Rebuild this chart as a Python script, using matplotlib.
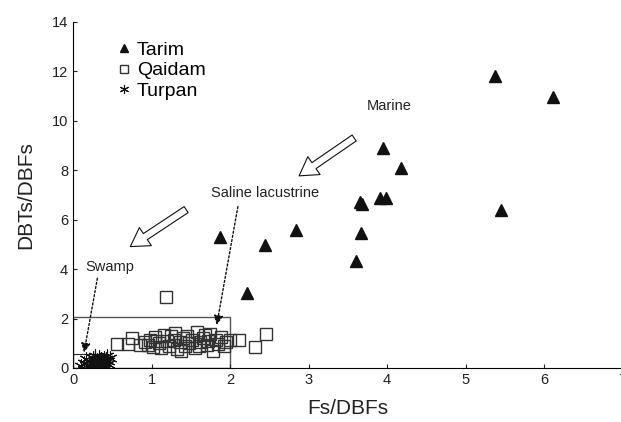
import matplotlib.pyplot as plt
from matplotlib.patches import Rectangle, FancyArrowPatch

plt.rcParams['font.family'] = ['Liberation Sans', 'DejaVu Sans']

# Tarim oils
tarim_x = [5.37, 6.11, 3.95, 4.18, 3.66, 3.68, 3.91, 3.98, 3.67, 3.60, 5.45, 1.87, 2.44, 2.84, 2.22]
tarim_y = [11.80, 10.98, 8.90, 8.08, 6.70, 6.62, 6.86, 6.86, 5.48, 4.32, 6.40, 5.32, 4.98, 5.59, 3.04]

# Qaidam oils
qaidam_x = [0.56, 0.70, 0.75, 0.85, 0.92, 0.98, 1.02, 1.05, 1.10, 1.12,
            1.16, 1.20, 1.22, 1.28, 1.30, 1.33, 1.36, 1.40, 1.42, 1.45,
            1.48, 1.52, 1.55, 1.58, 1.62, 1.65, 1.70, 1.72, 1.75, 1.78,
            1.82, 1.85, 1.88, 1.92, 1.95, 2.00, 2.12, 2.32, 2.46, 1.18,
            0.95, 1.25, 1.38, 1.60, 1.68, 1.05]
qaidam_y = [0.97, 0.97, 1.20, 0.93, 1.05, 1.15, 0.85, 1.25, 1.00, 0.80,
            1.35, 1.10, 0.90, 1.15, 1.40, 0.75, 1.05, 1.22, 0.88, 1.30,
            1.00, 1.12, 0.82, 1.45, 1.05, 1.20, 0.95, 1.08, 1.38, 0.70,
            1.15, 0.98, 1.25, 0.90, 1.05, 1.13, 1.13, 0.84, 1.38, 2.89,
            0.92, 1.30, 0.68, 0.88, 1.32, 1.10]

# Turpan oils
turpan_x = [0.10, 0.14, 0.18, 0.20, 0.22, 0.25, 0.26, 0.28, 0.30, 0.30,
            0.32, 0.33, 0.35, 0.35, 0.36, 0.38, 0.38, 0.40, 0.40, 0.42,
            0.42, 0.44, 0.45, 0.47, 0.24, 0.28, 0.34, 0.39, 0.43, 0.16]
turpan_y = [0.08, 0.20, 0.05, 0.30, 0.12, 0.22, 0.40, 0.08, 0.18, 0.32,
            0.10, 0.45, 0.25, 0.05, 0.38, 0.15, 0.30, 0.22, 0.42, 0.10,
            0.35, 0.28, 0.18, 0.40, 0.02, 0.50, 0.12, 0.05, 0.48, 0.35]

fig = plt.figure(figsize=(6.21, 4.22), dpi=100)
ax = fig.add_axes([0.1176, 0.128, 0.885, 0.8199])

# environment boxes
ax.add_patch(Rectangle((0, 0), 2.0, 2.05, fill=False, edgecolor='#555555', lw=1.0))
ax.add_patch(Rectangle((0, 0), 0.45, 0.57, fill=False, edgecolor='#222222', lw=0.8))

ax.plot(tarim_x, tarim_y, '^', color='#111111', ms=9, ls='none', label='Tarim')
ax.plot(qaidam_x, qaidam_y, 's', mfc='none', mec='#333333', mew=1.0, ms=8.5,
        ls='none', label='Qaidam')
ax.plot(turpan_x, turpan_y, marker=(6, 2, 0), color='#111111', mew=0.8, ms=10,
        ls='none', label='Turpan')

# hollow trend arrows
for tail, head in [((3.61, 9.37), (2.85, 7.71)), ((1.47, 6.47), (0.70, 4.85))]:
    ax.add_patch(FancyArrowPatch(tail, head,
                                 arrowstyle='simple,head_length=1.0,head_width=1.2,tail_width=0.4',
                                 mutation_scale=13, fc='white', ec='#111111', lw=0.8))

ax.text(4.03, 10.6, 'Marine', fontsize=10.5, ha='center', va='center', color='#222222')
ax.text(2.45, 7.08, 'Saline lacustrine', fontsize=10.5, ha='center', va='center', color='#222222')
ax.text(0.47, 4.09, 'Swamp', fontsize=10.5, ha='center', va='center', color='#222222')

# dotted pointers
dot_arrow = dict(arrowstyle='-|>', linestyle=(0, (1.5, 1.5)), color='#111111', lw=1.0,
                 mutation_scale=14, shrinkA=0, shrinkB=0)
ax.annotate('', xy=(1.83, 1.74), xytext=(2.10, 6.53), arrowprops=dot_arrow)
ax.annotate('', xy=(0.14, 0.62), xytext=(0.31, 3.63), arrowprops=dot_arrow)

ax.set_xlim(0, 7)
ax.set_ylim(0, 14)
ax.set_xticks(range(0, 8))
ax.set_yticks(range(0, 15, 2))
ax.tick_params(direction='in', length=3, labelsize=10.5, colors='#222222')
ax.spines['top'].set_visible(False)
ax.spines['right'].set_visible(False)
ax.set_xlabel('Fs/DBFs', fontsize=15, color='#222222', labelpad=9)
ax.set_ylabel('DBTs/DBFs', fontsize=15, color='#222222', labelpad=12)

ax.legend(loc='upper left', bbox_to_anchor=(0.045, 0.995), frameon=False, fontsize=14,
          handletextpad=0.2, labelspacing=0.15, handlelength=0.9, markerscale=0.65)

fig.savefig('out.png', dpi=100)
